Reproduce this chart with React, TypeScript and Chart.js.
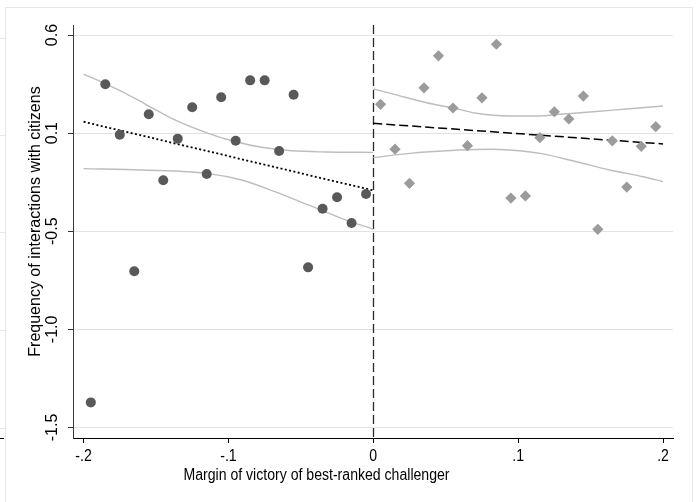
import React, { useEffect, useRef } from "react";
import { Chart, registerables } from "chart.js";

Chart.register(...registerables);

// Bin midpoints of the margin of victory and the mean outcome in each bin
const binsBelow = [
  -0.195, -0.185, -0.175, -0.165, -0.155, -0.145, -0.135, -0.125, -0.115, -0.105,
  -0.095, -0.085, -0.075, -0.065, -0.055, -0.045, -0.035, -0.025, -0.015, -0.005,
];
const meansBelow = [
  -1.322, 0.299, 0.042, -0.654, 0.146, -0.19, 0.022, 0.182, -0.158, 0.233,
  0.011, 0.319, 0.319, -0.041, 0.246, -0.634, -0.335, -0.277, -0.408, -0.26,
];
const binsAbove = [
  0.005, 0.015, 0.025, 0.035, 0.045, 0.055, 0.065, 0.075, 0.085, 0.095,
  0.105, 0.115, 0.125, 0.135, 0.145, 0.155, 0.165, 0.175, 0.185, 0.195,
];
const meansAbove = [
  0.197, -0.032, -0.206, 0.281, 0.444, 0.178, -0.014, 0.23, 0.503, -0.281,
  -0.27, 0.027, 0.159, 0.122, 0.239, -0.44, 0.011, -0.225, -0.017, 0.083,
];

// Linear fits on each side of the cutoff
const fitBelowX = [-0.2, 0];
const fitBelowY = [0.108, -0.242];
const fitAboveX = [0, 0.2];
const fitAboveY = [0.1, -0.005];

// Confidence bands around the fits
const ciBelowUpperX = [-0.2, -0.184, -0.171, -0.155, -0.137, -0.114, -0.095, -0.077, -0.056, -0.033, 0];
const ciBelowUpperY = [0.351, 0.299, 0.253, 0.188, 0.117, 0.049, 0.006, -0.022, -0.04, -0.046, -0.048];
const ciBelowLowerX = [-0.2, -0.16, -0.115, -0.091, -0.068, -0.045, -0.022, 0];
const ciBelowLowerY = [-0.131, -0.138, -0.155, -0.189, -0.248, -0.316, -0.384, -0.44];
const ciAboveUpperX = [0, 0.0138, 0.0368, 0.055, 0.0713, 0.0943, 0.1127, 0.1288, 0.1517, 0.1748, 0.2];
const ciAboveUpperY = [0.275, 0.249, 0.205, 0.178, 0.151, 0.137, 0.137, 0.146, 0.159, 0.173, 0.188];
const ciAboveLowerX = [0, 0.0253, 0.0598, 0.0828, 0.1012, 0.1172, 0.1403, 0.1632, 0.1862, 0.2];
const ciAboveLowerY = [-0.075, -0.053, -0.036, -0.032, -0.04, -0.056, -0.096, -0.138, -0.172, -0.197];

// Axes
const xTickValues = [-0.2, -0.1, 0, 0.1, 0.2];
const xTickLabels = ["-.2", "-.1", "0", ".1", ".2"];
const yTickValues = [0.55, 0.05, -0.45, -0.95, -1.45];
const yTickLabels = ["0.6", "0.1", "-0.5", "-1.0", "-1.5"];
const xTitle = "Margin of victory of best-ranked challenger";
const yTitle = "Frequency of interactions with citizens";
const cutoff = 0;

const FONT = "'Liberation Sans', Arial, Helvetica, sans-serif";

const toPoints = (xs: number[], ys: number[]) => xs.map((x, i) => ({ x, y: ys[i] }));

const cutoffLine = {
  id: "cutoffLine",
  beforeDatasetsDraw(chart: any) {
    const { ctx, chartArea, scales } = chart;
    const px = Math.round(scales.x.getPixelForValue(cutoff)) + 0.5;
    ctx.save();
    ctx.strokeStyle = "#2a2a2a";
    ctx.lineWidth = 1.3;
    ctx.setLineDash([9, 4]);
    ctx.beginPath();
    ctx.moveTo(px, chartArea.top);
    ctx.lineTo(px, chartArea.bottom);
    ctx.stroke();
    ctx.restore();
  },
};

const axisText = {
  id: "axisText",
  afterDraw(chart: any) {
    const { ctx, chartArea, scales } = chart;
    const xs = scales.x;
    const ys = scales.y;
    ctx.save();
    ctx.fillStyle = "#000";
    ctx.font = `16px ${FONT}`;
    ctx.textAlign = "center";
    ctx.textBaseline = "alphabetic";
    xTickValues.forEach((v, i) => {
      ctx.save();
      ctx.translate(xs.getPixelForValue(v), chartArea.bottom + 23);
      ctx.scale(0.88, 1);
      ctx.fillText(xTickLabels[i], 0, 0);
      ctx.restore();
    });
    yTickValues.forEach((v, i) => {
      ctx.save();
      ctx.translate(chartArea.left - 16, ys.getPixelForValue(v));
      ctx.rotate(-Math.PI / 2);
      ctx.fillText(yTickLabels[i], 0, 0);
      ctx.restore();
    });
    ctx.save();
    ctx.translate(316.5, chartArea.bottom + 42);
    ctx.scale(0.88, 1);
    ctx.fillText(xTitle, 0, 0);
    ctx.restore();
    ctx.save();
    ctx.translate(39.5, 221.5);
    ctx.rotate(-Math.PI / 2);
    ctx.fillText(yTitle, 0, 0);
    ctx.restore();
    ctx.restore();
  },
};

function RdPlot() {
  const canvasRef = useRef<HTMLCanvasElement | null>(null);

  useEffect(() => {
    if (!canvasRef.current) return;
    const ciStyle = {
      showLine: true,
      pointRadius: 0,
      borderColor: "#bdbdbd",
      borderWidth: 1.4,
      cubicInterpolationMode: "monotone" as const,
      fill: false,
    };
    const chart = new Chart(canvasRef.current, {
      type: "scatter",
      data: {
        datasets: [
          {
            data: toPoints(binsBelow, meansBelow),
            pointStyle: "circle",
            pointRadius: 5,
            pointBackgroundColor: "#595959",
            pointBorderWidth: 0,
          },
          {
            data: toPoints(binsAbove, meansAbove),
            pointStyle: "rectRot",
            pointRadius: 5.6,
            pointBackgroundColor: "#9b9b9b",
            pointBorderWidth: 0,
          },
          {
            data: toPoints(fitBelowX, fitBelowY),
            showLine: true,
            pointRadius: 0,
            borderColor: "#000",
            borderWidth: 1.8,
            borderDash: [2, 2.4],
          },
          {
            data: toPoints(fitAboveX, fitAboveY),
            showLine: true,
            pointRadius: 0,
            borderColor: "#000",
            borderWidth: 1.5,
            borderDash: [9, 4],
          },
          { data: toPoints(ciBelowUpperX, ciBelowUpperY), ...ciStyle },
          { data: toPoints(ciBelowLowerX, ciBelowLowerY), ...ciStyle },
          { data: toPoints(ciAboveUpperX, ciAboveUpperY), ...ciStyle },
          { data: toPoints(ciAboveLowerX, ciAboveLowerY), ...ciStyle },
        ],
      },
      options: {
        animation: false,
        responsive: false,
        devicePixelRatio: 1,
        layout: { padding: { left: 68, right: 24, top: 25, bottom: 59 } },
        plugins: { legend: { display: false }, tooltip: { enabled: false } },
        scales: {
          x: {
            type: "linear",
            min: -0.2073,
            max: 0.2069,
            afterBuildTicks: (s: any) => {
              s.ticks = xTickValues.map((value) => ({ value }));
            },
            ticks: { display: false },
            grid: {
              drawOnChartArea: false,
              drawTicks: true,
              tickLength: 5,
              tickColor: "#000",
              color: "#000",
            },
            border: { color: "#000", width: 1 },
          },
          y: {
            type: "linear",
            min: -1.5035,
            max: 0.601,
            afterBuildTicks: (s: any) => {
              s.ticks = yTickValues.map((value) => ({ value }));
            },
            ticks: { display: false },
            grid: {
              color: "#e3e3e3",
              lineWidth: 1,
              drawTicks: true,
              tickLength: 5,
              tickColor: "#333",
            },
            border: { color: "#3a3a3a", width: 1 },
          },
        },
      },
      plugins: [cutoffLine, axisText],
    });
    return () => chart.destroy();
  }, []);

  return <canvas ref={canvasRef} width={697} height={502} style={{ display: "block" }} />;
}

const frameLine = "#e6e6e6";

export default function App() {
  return (
    <div
      style={{
        position: "fixed",
        left: 0,
        top: 0,
        width: 697,
        height: 502,
        background: "#fff",
        overflow: "hidden",
      }}
    >
      {/* surrounding page frame */}
      <div
        style={{
          position: "absolute",
          left: 5,
          top: 7,
          width: 686,
          height: 520,
          borderTop: `1px solid ${frameLine}`,
          borderLeft: `1px solid ${frameLine}`,
          borderRight: `1px solid ${frameLine}`,
        }}
      />
      {[38, 135, 232, 330, 428].map((t) => (
        <div
          key={t}
          style={{ position: "absolute", left: 0, top: t, width: 5, height: 1, background: frameLine }}
        />
      ))}
      <div style={{ position: "absolute", left: 0, top: 438, width: 4, height: 1, background: "#000" }} />
      <div style={{ position: "absolute", left: 0, top: 0 }}>
        <RdPlot />
      </div>
    </div>
  );
}
